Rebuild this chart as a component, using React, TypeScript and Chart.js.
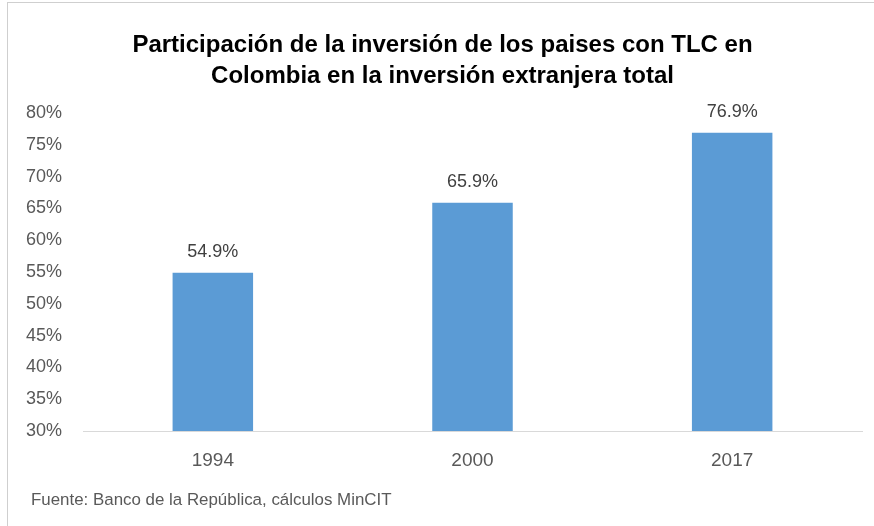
import React, { useEffect, useRef } from "react";
import { Chart, registerables } from "chart.js";

Chart.register(...registerables);

const titleLines = [
  "Participación de la inversión de los paises con TLC en",
  "Colombia en la inversión extranjera total",
];
const categories = ["1994", "2000", "2017"];
const values = [54.9, 65.9, 76.9];
const valueLabels = ["54.9%", "65.9%", "76.9%"];
const yMin = 30;
const yMax = 80;
const yStep = 5;
const sourceNote = "Fuente: Banco de la República, cálculos MinCIT";

const TICK_FONT = "'Liberation Sans', Arial, sans-serif";
const TITLE_FONT = "'Liberation Sans', Arial, sans-serif";

const dataLabelPlugin = {
  id: "dataLabels",
  afterDatasetsDraw(chart: any) {
    const ctx = chart.ctx;
    const meta = chart.getDatasetMeta(0);
    ctx.save();
    ctx.font = `18px ${TICK_FONT}`;
    ctx.fillStyle = "#404040";
    ctx.textAlign = "center";
    ctx.textBaseline = "alphabetic";
    meta.data.forEach((bar: any, i: number) => {
      ctx.fillText(valueLabels[i], bar.x, bar.y - 16);
    });
    ctx.restore();
  },
};

export default function App() {
  const ref = useRef<HTMLCanvasElement>(null);
  useEffect(() => {
    document.body.style.margin = "0";
    const chart = new Chart(ref.current!, {
      type: "bar",
      data: {
        labels: categories,
        datasets: [
          {
            data: values,
            backgroundColor: "#5B9BD5",
            borderWidth: 0,
            barPercentage: 0.62,
            categoryPercentage: 0.5,
          },
        ],
      },
      options: {
        animation: false,
        responsive: false,
        maintainAspectRatio: false,
        layout: { padding: { left: 23, right: 12, top: 0, bottom: 0 } },
        plugins: {
          legend: { display: false },
          tooltip: { enabled: false },
          title: {
            display: true,
            text: titleLines,
            color: "#000000",
            font: { family: TITLE_FONT, size: 24, weight: "bold", lineHeight: 1.3 },
            padding: { top: 30, bottom: 20.6 },
          },
        },
        scales: {
          x: {
            grid: { display: false, drawTicks: false },
            border: { display: true, color: "#D9D9D9", width: 1 },
            ticks: {
              color: "#595959",
              font: { family: TICK_FONT, size: 19 },
              padding: 18,
            },
            afterFit(scale: any) {
              scale.height = 95;
            },
          },
          y: {
            min: yMin,
            max: yMax,
            grid: { display: false, drawTicks: false },
            border: { display: false },
            ticks: {
              stepSize: yStep,
              color: "#595959",
              font: { family: TICK_FONT, size: 18 },
              padding: 21,
              callback: (v: any) => `${v}%`,
            },
            afterFit(scale: any) {
              scale.width = 60;
            },
          },
        },
      },
      plugins: [dataLabelPlugin],
    });
    return () => chart.destroy();
  }, []);

  return (
    <div
      style={{
        position: "fixed",
        left: 0,
        top: 0,
        width: 874,
        height: 526,
        background: "#ffffff",
        overflow: "hidden",
      }}
    >
      <div
        style={{
          position: "absolute",
          left: 7,
          top: 2,
          width: 880,
          height: 540,
          borderLeft: "1px solid #CFCFCF",
          borderTop: "1px solid #CFCFCF",
        }}
      />
      <canvas ref={ref} width={874} height={526} style={{ position: "absolute", left: 0, top: 0 }} />
      <div
        style={{
          position: "absolute",
          left: 31,
          top: 492,
          fontFamily: TICK_FONT,
          fontSize: 16.9,
          lineHeight: "16.5px",
          color: "#595959",
          whiteSpace: "nowrap",
        }}
      >
        {sourceNote}
      </div>
    </div>
  );
}
